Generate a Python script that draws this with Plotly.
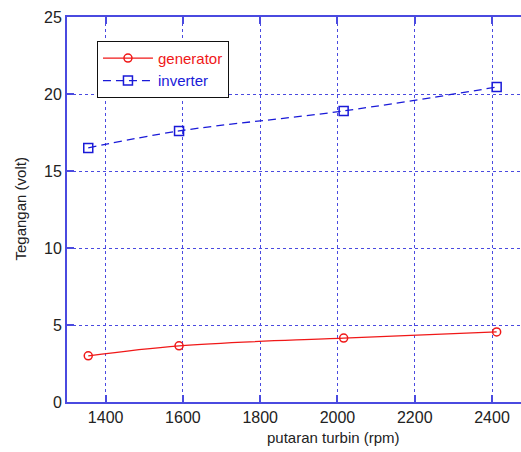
import plotly.graph_objects as go

rpm = [1355, 1590, 2016, 2412]
generator = [3.0, 3.65, 4.15, 4.55]
inverter = [16.5, 17.6, 18.9, 20.45]

x_ticks = [1400, 1600, 1800, 2000, 2200, 2400]
y_ticks = [0, 5, 10, 15, 20, 25]

RED = "#f01818"
BLUE = "#1a1ad8"
AX = "#4a4ae0"
FONT = "Liberation Sans, Arial, sans-serif"

fig = go.Figure()
fig.add_trace(go.Scatter(
    x=rpm, y=generator, mode="lines+markers",
    name='<span style="color:#f01818">generator</span>',
    line=dict(color=RED, width=1.3, shape="spline", smoothing=1),
    marker=dict(symbol="circle-open", size=8, color=RED, line=dict(width=1.5)),
))
fig.add_trace(go.Scatter(
    x=rpm, y=inverter, mode="lines+markers",
    name='<span style="color:#1a1ad8">inverter</span>',
    line=dict(color=BLUE, width=1.3, dash="8px,5px", shape="spline", smoothing=1),
    marker=dict(symbol="square-open", size=9, color=BLUE, line=dict(width=1.5)),
))

fig.update_layout(
    width=521, height=452,
    margin=dict(l=67, r=0, t=17, b=50),
    paper_bgcolor="white", plot_bgcolor="white",
    font=dict(family=FONT, size=14, color="#222222"),
    legend=dict(
        x=0.066, y=0.938, xanchor="left", yanchor="top",
        bgcolor="white", bordercolor="#111111", borderwidth=1,
        font=dict(family=FONT, size=15),
        itemwidth=50, tracegroupgap=0,
    ),
    showlegend=True,
    annotations=[
        dict(
            text="putaran turbin (rpm)", xref="paper", yref="paper",
            x=0.586, y=-0.091, xanchor="center", yanchor="middle",
            showarrow=False, font=dict(family=FONT, size=15, color="#222222"),
        ),
        dict(
            text="Tegangan (volt)", xref="paper", yref="paper",
            x=-0.1035, y=0.5, xanchor="center", yanchor="middle", textangle=-90,
            showarrow=False, font=dict(family=FONT, size=15, color="#222222"),
        ),
    ],
)
fig.update_xaxes(
    range=[1300, 2475], tickvals=x_ticks, ticktext=[str(v) for v in x_ticks],
    showline=True, linecolor=AX, linewidth=2, mirror="ticks",
    ticks="inside", ticklen=7, tickcolor=AX, tickwidth=2,
    showgrid=True, gridcolor=AX, griddash="dot", gridwidth=1,
    zeroline=False, automargin=False,
    tickfont=dict(size=16),
)
fig.update_yaxes(
    range=[0, 25], tickvals=y_ticks, ticktext=[str(v) for v in y_ticks],
    showline=True, linecolor=AX, linewidth=2,
    ticks="inside", ticklen=7, tickcolor=AX, tickwidth=2,
    showgrid=True, gridcolor=AX, griddash="dot", gridwidth=1,
    zeroline=False, automargin=False,
    tickfont=dict(size=16),
)

fig.write_html(
    "out.html",
    config={"displayModeBar": False},
    post_script="document.body.style.margin='0';document.body.style.overflow='hidden';",
)
